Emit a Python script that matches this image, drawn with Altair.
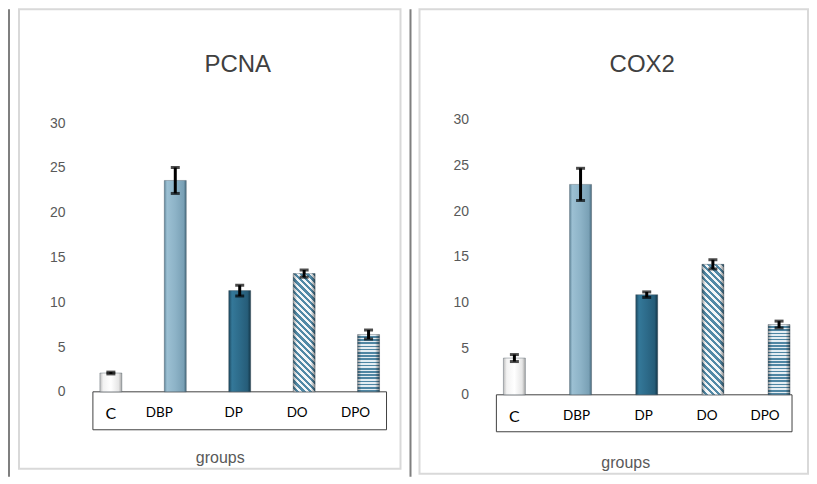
import math
import altair as alt
import pandas as pd

# ---------------- data ----------------
groups = ["C", "DBP", "DP", "DO", "DPO"]
pcna_mean = [2.1, 23.6, 11.3, 13.2, 6.4]
pcna_err = [0.1, 1.45, 0.6, 0.4, 0.5]
cox2_mean = [4.0, 22.9, 10.9, 14.2, 7.65]
cox2_err = [0.38, 1.75, 0.3, 0.5, 0.37]
y_ticks = [0, 5, 10, 15, 20, 25, 30]

BAR_W = 22
SQ2 = math.sqrt(2)


def hgrad(stops):
    return {"gradient": "linear", "x1": 0, "y1": 0, "x2": 1, "y2": 0,
            "stops": [{"offset": o, "color": c} for o, c in stops]}


def stripe_stops(n, c1, c2):
    st = []
    for i in range(n):
        a, m, b = i / n, (i + 0.5) / n, (i + 1) / n
        st += [(a, c1), (m, c1), (m, c2), (b, c2)]
    return [{"offset": o, "color": c} for o, c in st]


def fills(means, ppu):
    f = {}
    f["C"] = hgrad([(0, "#bdbdbd"), (0.15, "#f2f2f2"), (0.5, "#ffffff"),
                    (0.85, "#e6e6e6"), (1, "#a6a6a6")])
    f["DBP"] = hgrad([(0, "#5f8599"), (0.12, "#9cc0d3"), (0.5, "#8db3c7"),
                      (0.88, "#79a0b5"), (1, "#46697c")])
    f["DP"] = hgrad([(0, "#1b465c"), (0.15, "#347899"), (0.5, "#2d6b8a"),
                     (0.85, "#265d79"), (1, "#133648")])
    # diagonal stripes for DO
    h = means[3] * ppu
    w = BAR_W
    a = (w + h) / (w * w + h * h)
    n = max(1, round((w + h) / SQ2 / 4.6))
    f["DO"] = {"gradient": "linear", "x1": 0, "y1": 1, "x2": a * w, "y2": 1 - a * h,
               "stops": stripe_stops(n, "#f3f6f8", "#5289a6")}
    # horizontal stripes for DPO
    h2 = means[4] * ppu
    n2 = max(1, round(h2 / 3.2))
    f["DPO"] = {"gradient": "linear", "x1": 0, "y1": 0, "x2": 0, "y2": 1,
                "stops": stripe_stops(n2, "#e4edf2", "#4f86a3")}
    return f


EDGE = hgrad([(0, "rgba(0,0,0,0.35)"), (0.18, "rgba(0,0,0,0)"),
              (0.8, "rgba(0,0,0,0)"), (1, "rgba(0,0,0,0.45)")])


def panel(title, means, errs, width, height, dmax, p_in, p_out, align,
          offsets, tx, ty, inner_box, dark_x, box_h, title_x):
    df = pd.DataFrame({
        "group": groups,
        "mean": means,
        "lo": [m - e for m, e in zip(means, errs)],
        "hi": [m + e for m, e in zip(means, errs)],
    })
    ppu = height / dmax
    f = fills(means, ppu)

    off_cond = [{"test": f"datum.value === '{g}'", "value": o}
                for g, o in offsets.items() if o != 0]
    X = alt.X("group:N", sort=groups,
              scale=alt.Scale(paddingInner=p_in, paddingOuter=p_out, align=align),
              axis=alt.Axis(title="groups", domain=False, ticks=False, zindex=1,
                            labelAngle=0, labelFont="Lato",
                            labelFontSize={"condition": {"test": "datum.value === 'C'", "value": 16},
                                           "value": 13.5},
                            labelColor="#000000", labelPadding=14,
                            labelOffset={"condition": off_cond, "value": 0},
                            titleFont="Liberation Sans", titleFontSize=16,
                            titleFontWeight="normal", titleColor="#595959",
                            titleX=tx, titleY=ty, titleBaseline="alphabetic",
                            titleAlign="center"))
    yscale = alt.Scale(domain=[0, dmax], nice=False, zero=True)
    yaxis = alt.Axis(title=None, values=y_ticks, domain=False, ticks=False,
                     grid=False, labelFont="Liberation Sans", labelFontSize=14,
                     labelColor="#595959", labelPadding=28)

    def Y(field):
        return alt.Y(f"{field}:Q", scale=yscale, axis=yaxis)

    base = alt.Chart(df)
    deco = alt.Chart(alt.Data(values=[{"k": 0}]))

    layers = []
    # light inner frame
    layers.append(deco.mark_rect(fillOpacity=0, stroke="#d9d9d9", strokeWidth=2).encode(
        x=alt.value(inner_box[0]), x2=alt.value(inner_box[1]),
        y=alt.value(inner_box[2]), y2=alt.value(inner_box[3])))
    # dark outer line
    layers.append(deco.mark_rule(color="#7f7f7f", strokeWidth=2).encode(
        x=alt.value(dark_x), y=alt.value(-110), y2=alt.value(358)))
    # category box
    layers.append(deco.mark_rect(fill="white", stroke="#404040", strokeWidth=1).encode(
        x=alt.value(0), x2=alt.value(width),
        y=alt.value(height), y2=alt.value(height + box_h)))
    # panel title
    layers.append(deco.mark_text(text=title, font="Liberation Sans", fontSize=24,
                                 color="#404040", align="center",
                                 baseline="alphabetic").encode(
        x=alt.value(title_x), y=alt.value(-47.5)))
    # bars
    for g in groups:
        layers.append(base.transform_filter(alt.datum.group == g)
                      .mark_bar(color=f[g], stroke="#3a4a55", strokeWidth=0.6,
                                strokeOpacity=0.6)
                      .encode(x=X, y=Y("mean")))
    layers.append(base.transform_filter(alt.FieldOneOfPredicate(field="group", oneOf=["DO", "DPO"]))
                  .mark_bar(color=EDGE).encode(x=X, y=Y("mean")))
    # error bars
    layers.append(base.mark_rule(color="black", strokeWidth=3).encode(
        x=X, y=Y("lo"), y2="hi:Q"))
    layers.append(base.mark_tick(color="black", size=9, thickness=3).encode(x=X, y=Y("hi")))
    layers.append(base.mark_tick(color="black", size=9, thickness=3).encode(x=X, y=Y("lo")))

    return alt.layer(*layers).properties(width=width, height=height)


p1 = panel("PCNA", pcna_mean, pcna_err, 294, 273, 30 + 4 / 8.967,
           0.659, 0.1085, 0.5,
           {"C": 0, "DBP": -16, "DP": -6, "DO": -7, "DPO": -13},
           127, 71, (-74, 308, -110, 350), -84, 38, 145)
p2 = panel("COX2", cox2_mean, cox2_err, 296, 276, 30,
           0.668, 0.068, 0.78,
           {"C": 0, "DBP": -4, "DP": -3, "DO": -6, "DPO": -14},
           129, 73, (-77, 312, -110, 355), -86, 37, 146)

chart = alt.hconcat(p1, p2, spacing=110, bounds="flush").properties(
    padding=0, background="white"
).configure_view(stroke=None)

chart.save("out.html", embed_options={"renderer": "svg", "actions": False})
